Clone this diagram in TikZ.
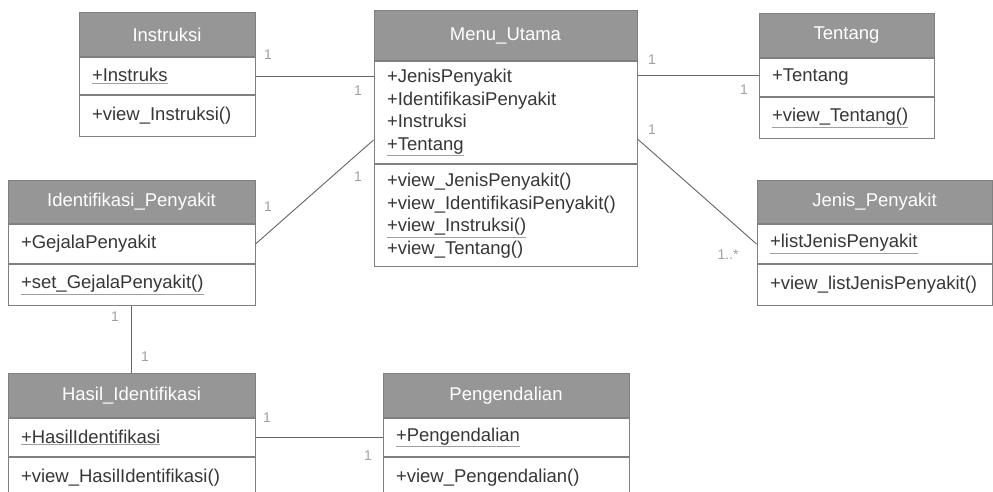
\documentclass[tikz,border=0pt]{standalone}
\usepackage{fontspec}
\setmainfont{Liberation Sans}
\usetikzlibrary{positioning}

\definecolor{headgray}{RGB}{150,150,150}
\definecolor{boxline}{RGB}{128,128,128}
\definecolor{linkgray}{RGB}{100,100,100}
\definecolor{textgray}{RGB}{55,55,55}
\definecolor{multgray}{RGB}{160,160,160}

% thin grey rule under some members
\newcommand{\ulgray}[1]{{\color{multgray}\underline{\textcolor{textgray}{#1}}}}

\begin{document}
\begin{tikzpicture}[x=1pt, y=-1pt,
  every node/.style = {font=\fontsize{18.5}{22.5}\selectfont},
  head/.style = {draw=boxline, fill=headgray, text=white, line width=1pt,
    minimum height=44pt, inner sep=0pt, anchor=north},
  part/.style = {draw=boxline, fill=white, text=textgray, line width=1pt,
    inner xsep=13pt, inner ysep=0pt, minimum height=38pt, align=left},
  link/.style = {draw=linkgray, line width=0.9pt},
  mult/.style = {text=multgray, inner sep=0pt,
    font=\fontsize{14}{14}\selectfont}]
  \useasboundingbox (0,0) rectangle (993,492);

  % Menu_Utama
  \node[head, minimum width=263pt, minimum height=50pt] (menu) at (505.5,10) {Menu\_Utama};
  \node[part, text width=237pt, minimum height=102pt, below=0pt of menu] (menu-a)
    {+JenisPenyakit\\+IdentifikasiPenyakit\\+Instruksi\\\ulgray{+Tentang}};
  \node[part, text width=237pt, minimum height=102pt, below=0pt of menu-a] (menu-m)
    {+view\_JenisPenyakit()\\+view\_IdentifikasiPenyakit()\\\ulgray{+view\_Instruksi()}\\+view\_Tentang()};

  % Instruksi
  \node[head, minimum width=176pt] (instr) at (167,12) {Instruksi};
  \node[part, text width=150pt, minimum height=37pt, below=0pt of instr] (instr-a) {\ulgray{+Instruks}};
  \node[part, text width=150pt, minimum height=41pt, below=0pt of instr-a] (instr-m) {+view\_Instruksi()};

  % Tentang
  \node[head, minimum width=175pt] (tent) at (846.5,13) {Tentang};
  \node[part, text width=149pt, below=0pt of tent] (tent-a) {+Tentang};
  \node[part, text width=149pt, minimum height=41pt, below=0pt of tent-a] (tent-m) {\ulgray{+view\_Tentang()}};

  % Identifikasi_Penyakit
  \node[head, minimum width=247pt, minimum height=43pt] (ident) at (131.5,180) {Identifikasi\_Penyakit};
  \node[part, text width=221pt, minimum height=39pt, below=0pt of ident] (ident-a) {+GejalaPenyakit};
  \node[part, text width=221pt, minimum height=41pt, below=0pt of ident-a] (ident-m) {\ulgray{+set\_GejalaPenyakit()}};

  % Jenis_Penyakit
  \node[head, minimum width=235pt, minimum height=43pt] (jenis) at (874.5,180) {Jenis\_Penyakit};
  \node[part, text width=209pt, minimum height=39pt, below=0pt of jenis] (jenis-a) {\ulgray{+listJenisPenyakit}};
  \node[part, text width=209pt, minimum height=41pt, below=0pt of jenis-a] (jenis-m) {+view\_listJenisPenyakit()};

  % Hasil_Identifikasi
  \node[head, minimum width=247pt] (hasil) at (131.5,373) {Hasil\_Identifikasi};
  \node[part, text width=221pt, below=0pt of hasil] (hasil-a) {\ulgray{+HasilIdentifikasi}};
  \node[part, text width=221pt, minimum height=41pt, below=0pt of hasil-a] (hasil-m) {+view\_HasilIdentifikasi()};

  % Pengendalian
  \node[head, minimum width=246pt] (peng) at (506,373) {Pengendalian};
  \node[part, text width=220pt, below=0pt of peng] (peng-a) {\ulgray{+Pengendalian}};
  \node[part, text width=220pt, minimum height=41pt, below=0pt of peng-a] (peng-m) {+view\_Pengendalian()};

  % associations
  \draw[link] (instr-a.east) -- (instr-a.east -| menu-a.west);
  \draw[link] ([yshift=2pt]tent-a.west) -- ([yshift=2pt]tent-a.west -| menu-a.east);
  \draw[link] ([yshift=24pt]menu-a.south west) -- (ident-a.east);
  \draw[link] ([yshift=25pt]menu-a.south east) -- (jenis-a.west);
  \draw[link] (ident-m.south) -- (hasil.north);
  \draw[link] (hasil-a.east) -- (peng-a.west);

  % multiplicities
  \node[mult] (m-instr) at (268,55) {1};
  \node[mult] (m-menu1) at (358,91) {1};
  \node[mult] (m-menu2) at (652,60) {1};
  \node[mult] (m-tent) at (744,90) {1};
  \node[mult] (m-menu3) at (358,177) {1};
  \node[mult] (m-ident1) at (268,207) {1};
  \node[mult] (m-menu4) at (652,130) {1};
  \node[mult] (m-jenis) at (728,255) {1..*};
  \node[mult] (m-ident2) at (115,317) {1};
  \node[mult] (m-hasil1) at (145,357) {1};
  \node[mult] (m-hasil2) at (267,418) {1};
  \node[mult] (m-peng) at (368,456) {1};
\end{tikzpicture}
\end{document}
